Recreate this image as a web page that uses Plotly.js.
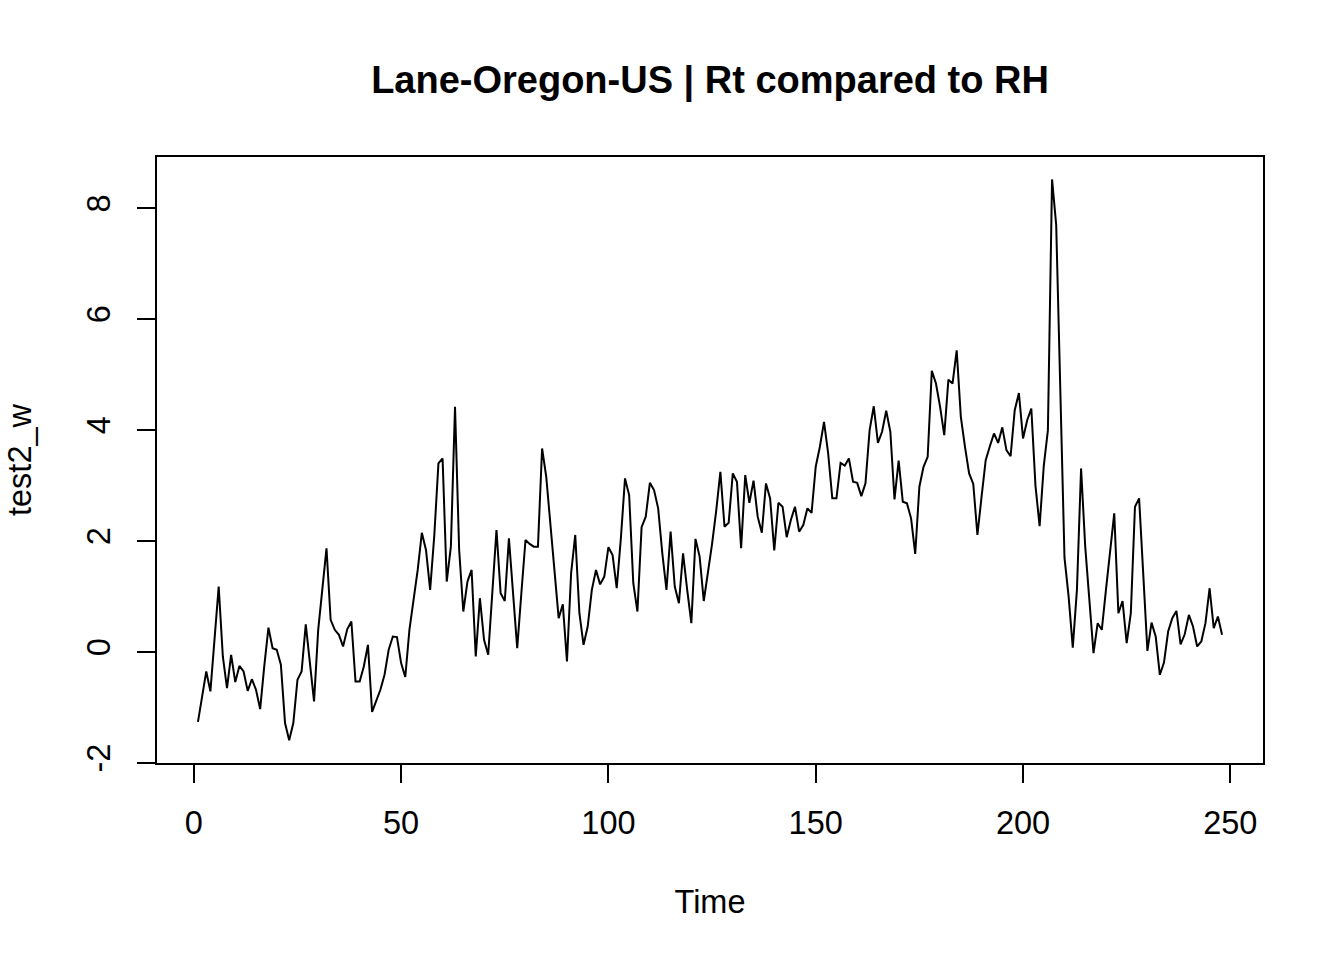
<!DOCTYPE html>
<html>
<head>
<meta charset="utf-8">
<script src="https://cdn.plot.ly/plotly-3.0.1.min.js"></script>
<style>
  html, body { margin: 0; padding: 0; background: #ffffff; }
  #chart { width: 1344px; height: 960px; }
</style>
</head>
<body>
<div id="chart"></div>
<script>
// Series values (t = 1..248)
const test2_w = [
  -1.26, -0.80, -0.35, -0.71, 0.25, 1.18, -0.08, -0.65, -0.05, -0.54,
  -0.25, -0.35, -0.70, -0.49, -0.68, -1.03, -0.25, 0.44, 0.07, 0.04,
  -0.23, -1.28, -1.59, -1.28, -0.50, -0.35, 0.50, -0.20, -0.89, 0.40,
  1.10, 1.87, 0.58, 0.40, 0.31, 0.10, 0.41, 0.55, -0.53, -0.53,
  -0.26, 0.13, -1.08, -0.86, -0.68, -0.41, 0.04, 0.28, 0.27, -0.20,
  -0.45, 0.40, 0.90, 1.48, 2.15, 1.84, 1.12, 2.10, 3.40, 3.49,
  1.27, 1.90, 4.42, 1.84, 0.73, 1.27, 1.48, -0.08, 0.97, 0.22,
  -0.05, 1.12, 2.20, 1.06, 0.92, 2.05, 1.06, 0.07, 1.06, 2.02,
  1.95, 1.90, 1.90, 3.67, 3.16, 2.32, 1.53, 0.61, 0.86, -0.17,
  1.42, 2.11, 0.70, 0.13, 0.46, 1.12, 1.48, 1.22, 1.36, 1.89,
  1.75, 1.15, 2.05, 3.13, 2.83, 1.24, 0.73, 2.25, 2.44, 3.05,
  2.92, 2.59, 1.78, 1.12, 2.17, 1.18, 0.88, 1.78, 1.12, 0.52,
  2.04, 1.72, 0.92, 1.40, 1.95, 2.55, 3.25, 2.26, 2.33, 3.22,
  3.07, 1.87, 3.19, 2.69, 3.09, 2.44, 2.15, 3.04, 2.77, 1.83,
  2.69, 2.62, 2.07, 2.38, 2.62, 2.17, 2.29, 2.59, 2.51, 3.34,
  3.70, 4.15, 3.58, 2.77, 2.77, 3.41, 3.36, 3.49, 3.07, 3.05,
  2.81, 3.04, 4.00, 4.43, 3.77, 3.97, 4.35, 3.97, 2.75, 3.45,
  2.71, 2.68, 2.41, 1.77, 2.98, 3.34, 3.52, 5.07, 4.84, 4.42,
  3.91, 4.91, 4.84, 5.44, 4.24, 3.70, 3.22, 3.03, 2.11, 2.80,
  3.46, 3.71, 3.94, 3.77, 4.05, 3.64, 3.53, 4.36, 4.67, 3.85,
  4.18, 4.39, 3.00, 2.27, 3.35, 4.00, 8.52, 7.70, 4.70, 1.70,
  1.00, 0.08, 1.12, 3.31, 1.90, 1.00, -0.02, 0.52, 0.40, 1.12,
  1.77, 2.50, 0.70, 0.92, 0.16, 0.70, 2.62, 2.77, 1.40, 0.02,
  0.53, 0.28, -0.41, -0.19, 0.37, 0.61, 0.74, 0.14, 0.32, 0.67,
  0.46, 0.10, 0.19, 0.52, 1.15, 0.43, 0.64, 0.31
];
const timeIndex = test2_w.map((_, i) => i + 1);
const xTicks = [0, 50, 100, 150, 200, 250];
const yTicks = [-2, 0, 2, 4, 6, 8];

const chartTitle = "Lane-Oregon-US | Rt compared to RH";
const xTitle = "Time";
const yTitle = "test2_w";

const FONT = '"Liberation Sans", Arial, Helvetica, sans-serif';

const trace = {
  x: timeIndex,
  y: test2_w,
  type: 'scatter',
  mode: 'lines',
  line: { color: '#000000', width: 2 },
  hoverinfo: 'x+y'
};

const layout = {
  width: 1344,
  height: 960,
  paper_bgcolor: '#ffffff',
  plot_bgcolor: '#ffffff',
  showlegend: false,
  margin: { l: 157, r: 81, t: 157, b: 197, pad: 0 },
  font: { family: FONT, color: '#000000', size: 32 },
  title: {
    text: '<b>' + chartTitle + '</b>',
    font: { family: FONT, size: 38, color: '#000000' },
    x: 0.5283, xanchor: 'center',
    y: 0.917, yanchor: 'middle'
  },
  xaxis: {
    range: [-8.88, 257.88],
    tickmode: 'array',
    tickvals: xTicks,
    ticktext: xTicks.map(String),
    ticks: 'outside',
    ticklen: 18,
    tickwidth: 2,
    tickcolor: '#000000',
    ticklabelstandoff: 12,
    showline: true,
    mirror: true,
    linecolor: '#000000',
    linewidth: 2,
    showgrid: false,
    zeroline: false,
    tickfont: { family: FONT, size: 32.5, color: '#000000' },
    title: { text: xTitle, font: { family: FONT, size: 32.5, color: '#000000' }, standoff: 50 },
    automargin: false
  },
  yaxis: {
    range: [-2.0005, 8.924],
    tickmode: 'array',
    tickvals: yTicks,
    ticktext: yTicks.map(String),
    ticks: 'outside',
    ticklen: 18,
    tickwidth: 2,
    tickcolor: '#000000',
    tickangle: -90,
    ticklabelstandoff: 14,
    showline: true,
    mirror: true,
    linecolor: '#000000',
    linewidth: 2,
    showgrid: false,
    zeroline: false,
    tickfont: { family: FONT, size: 32.5, color: '#000000' },
    title: { text: yTitle, font: { family: FONT, size: 32.5, color: '#000000' }, standoff: 40 },
    automargin: false
  }
};

Plotly.newPlot('chart', [trace], layout, { displayModeBar: false, staticPlot: true });
</script>
</body>
</html>
